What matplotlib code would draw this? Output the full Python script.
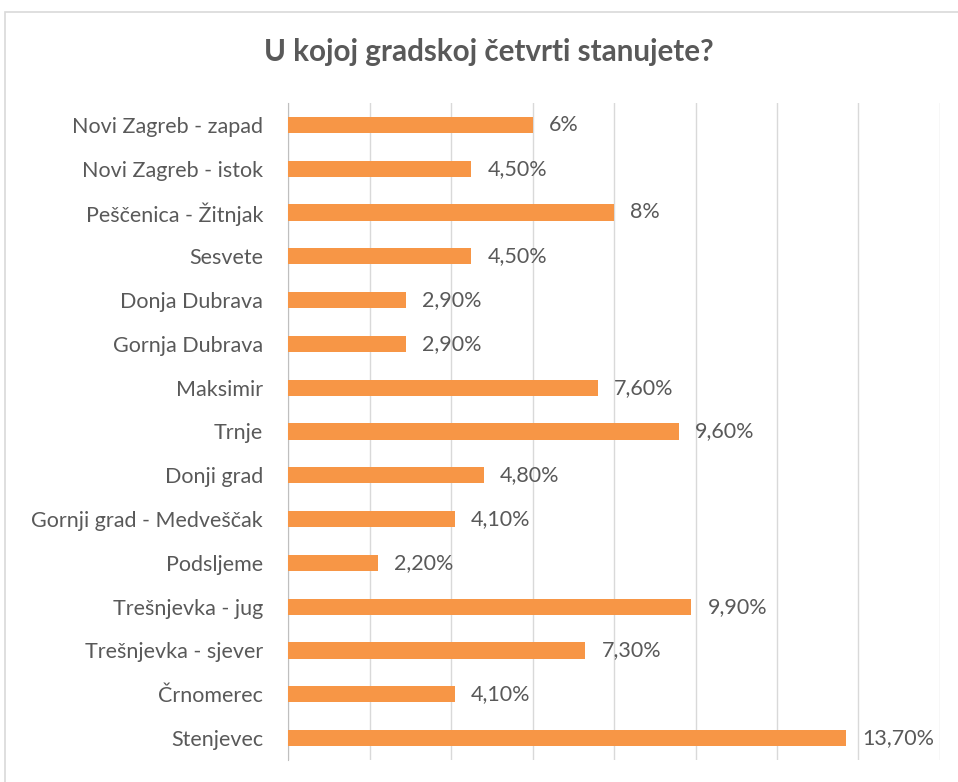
import matplotlib
matplotlib.use("Agg")
import matplotlib.pyplot as plt
from matplotlib.patches import Rectangle

categories = ["Novi Zagreb - zapad", "Novi Zagreb - istok", "Peščenica - Žitnjak", "Sesvete",
              "Donja Dubrava", "Gornja Dubrava", "Maksimir", "Trnje", "Donji grad",
              "Gornji grad - Medveščak", "Podsljeme", "Trešnjevka - jug", "Trešnjevka - sjever",
              "Črnomerec", "Stenjevec"]
values = [6.0, 4.5, 8.0, 4.5, 2.9, 2.9, 7.6, 9.6, 4.8, 4.1, 2.2, 9.9, 7.3, 4.1, 13.7]
value_labels = ["6%", "4,50%", "8%", "4,50%", "2,90%", "2,90%", "7,60%", "9,60%", "4,80%",
                "4,10%", "2,20%", "9,90%", "7,30%", "4,10%", "13,70%"]
title = "U kojoj gradskoj četvrti stanujete?"

TXT = "#595959"
plt.rcParams['font.family'] = ['Lato', 'DejaVu Sans']

fig = plt.figure(figsize=(9.58, 7.82), dpi=100)
fig.patches.append(Rectangle((5/958, -0.01), 2, 1 - 12/782 + 0.01, transform=fig.transFigure,
                             fill=False, edgecolor="#D9D9D9", linewidth=1.2))
ax = fig.add_axes([288/958, 1 - 760/782, (940 - 288)/958, (760 - 103)/782])

y = list(range(len(categories)))
ax.barh(y, values, height=0.37, color="#F79646", zorder=3)
for yi, v, lab in zip(y, values, value_labels):
    ax.annotate(lab, (v, yi), xytext=(11.5, 0), textcoords="offset points",
                va="center", ha="left", fontsize=15.5, color=TXT)

ax.set_xlim(0, 16)
ax.set_ylim(14.5, -0.5)
ax.set_xticks(range(0, 17, 2))
ax.set_xticklabels([])
ax.tick_params(axis="x", length=0)
ax.grid(axis="x", color="#D9D9D9", linewidth=1, zorder=0)
ax.set_yticks(y)
ax.set_yticklabels(categories, fontsize=15.5, color=TXT)
ax.tick_params(axis="y", length=0, pad=18)
for s in ["top", "right", "bottom"]:
    ax.spines[s].set_visible(False)
ax.spines["left"].set_color("#BFBFBF")

fig.text(489/958, 1 - 52/782, title, ha="center", va="center", fontsize=21.3,
         fontweight="bold", color=TXT)

fig.savefig("out.png", dpi=100)
